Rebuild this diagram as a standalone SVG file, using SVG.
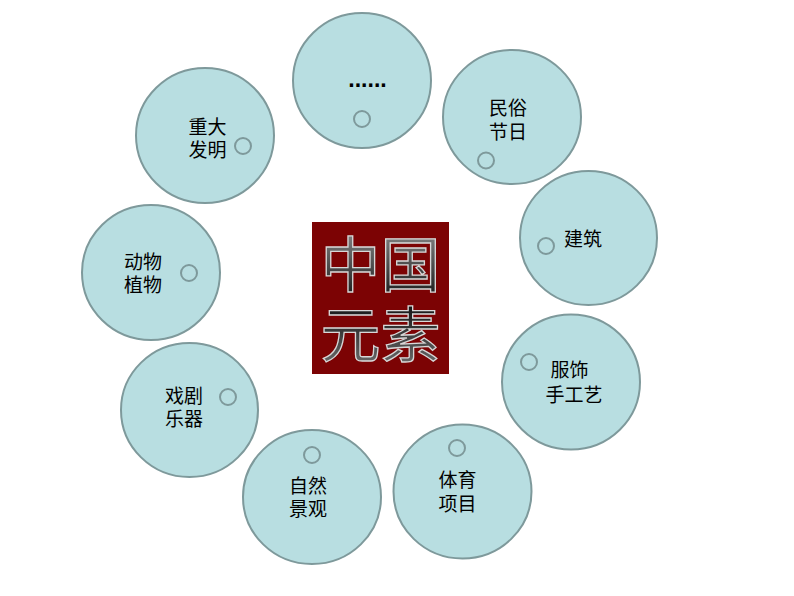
<svg xmlns="http://www.w3.org/2000/svg" width="794" height="596" viewBox="0 0 794 596">
<defs>
<style>
.big{fill:#B8DEE1;stroke:#7E999B;stroke-width:2}
.dot{fill:none;stroke:#7E999B;stroke-width:2}
.lbl{font-family:"Noto Sans CJK SC","Noto Sans",sans-serif;font-size:19px;fill:#000;text-anchor:middle}
.title{font-family:"Noto Sans CJK SC","Noto Sans CJK JP",sans-serif;font-size:60px;text-anchor:middle;fill:url(#metal);stroke:#d8d8d8;stroke-width:1.3}
</style>
<linearGradient id="metal" x1="0" y1="0" x2="0" y2="1">
<stop offset="0" stop-color="#9a9a9a"/>
<stop offset="0.45" stop-color="#2a2a2a"/>
<stop offset="0.55" stop-color="#111"/>
<stop offset="1" stop-color="#777"/>
</linearGradient>
</defs>
<rect width="794" height="596" fill="#fff"/>
<g id="center">
<rect x="312" y="222" width="137" height="152" fill="#7C0304"/>
<text class="title"><tspan x="380.5" y="287">中国</tspan><tspan x="380.5" y="357">元素</tspan></text>
</g>
<g id="connectors"></g>
<g id="node-more">
<ellipse class="big" cx="362" cy="80.5" rx="69" ry="67.5"/>
<circle class="dot" cx="362" cy="119" r="8"/>
<text x="367.5" y="87" style="font-family:'Liberation Sans',sans-serif;font-size:23px;font-weight:bold;text-anchor:middle">......</text>
</g>
<g id="node-minsu">
<ellipse class="big" cx="512" cy="117" rx="69" ry="67"/>
<circle class="dot" cx="486" cy="160.5" r="8"/>
<text class="lbl"><tspan x="508" y="115">民俗</tspan><tspan x="508" y="139">节日</tspan></text>
</g>
<g id="node-jianzhu">
<ellipse class="big" cx="588.5" cy="238" rx="68.5" ry="67"/>
<circle class="dot" cx="546" cy="246" r="8"/>
<text class="lbl" x="583" y="246">建筑</text>
</g>
<g id="node-fushi">
<ellipse class="big" cx="571" cy="382" rx="69" ry="67.5"/>
<circle class="dot" cx="529" cy="362" r="8"/>
<text class="lbl"><tspan x="569.5" y="377">服饰</tspan><tspan x="574" y="402">手工艺</tspan></text>
</g>
<g id="node-tiyu">
<ellipse class="big" cx="462.5" cy="491.5" rx="69" ry="67"/>
<circle class="dot" cx="457" cy="448" r="8"/>
<text class="lbl"><tspan x="457.5" y="487">体育</tspan><tspan x="457.5" y="511">项目</tspan></text>
</g>
<g id="node-ziran">
<ellipse class="big" cx="312" cy="497" rx="69" ry="67"/>
<circle class="dot" cx="312" cy="455" r="8"/>
<text class="lbl"><tspan x="308" y="493">自然</tspan><tspan x="308" y="516">景观</tspan></text>
</g>
<g id="node-xiju">
<ellipse class="big" cx="189.5" cy="410" rx="68.5" ry="67"/>
<circle class="dot" cx="228" cy="397" r="8"/>
<text class="lbl"><tspan x="184" y="403">戏剧</tspan><tspan x="184" y="426">乐器</tspan></text>
</g>
<g id="node-dongwu">
<ellipse class="big" cx="151" cy="272.5" rx="69" ry="67.5"/>
<circle class="dot" cx="189" cy="273" r="8"/>
<text class="lbl"><tspan x="143" y="269">动物</tspan><tspan x="143" y="292">植物</tspan></text>
</g>
<g id="node-faming">
<ellipse class="big" cx="205" cy="135.5" rx="69" ry="67.5"/>
<circle class="dot" cx="243" cy="146" r="8"/>
<text class="lbl"><tspan x="207.5" y="134">重大</tspan><tspan x="207.5" y="157">发明</tspan></text>
</g>
</svg>
